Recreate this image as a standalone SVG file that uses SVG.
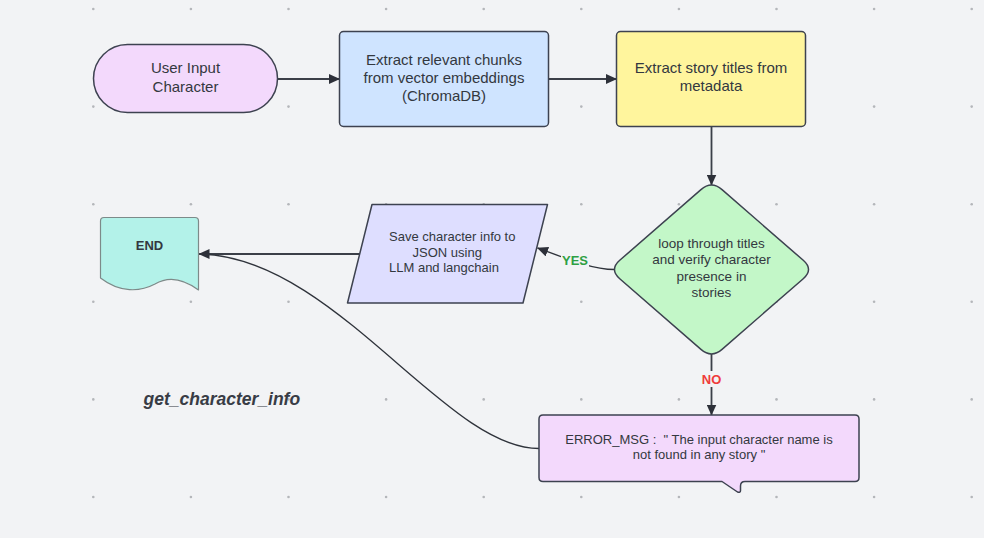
<svg xmlns="http://www.w3.org/2000/svg" width="984" height="538" viewBox="0 0 984 538">
<defs>
<style>
.bg{fill:#f2f3f5}
.dot{fill:#b4b6ba}
.shape{stroke:#3d4250;stroke-width:1.5;stroke-linejoin:round}
.t{font-family:"Liberation Sans",Arial,sans-serif;fill:#333840;text-anchor:middle}
.t15{font-size:15px}
.t13{font-size:13px}
.t135{font-size:13.5px}
.conn{fill:none;stroke:#3b3f48;stroke-width:1.8}
.curve{fill:none;stroke:#2f333b;stroke-width:1.3}
.lbl{font-family:"Liberation Sans",Arial,sans-serif;font-size:13px;font-weight:bold;text-anchor:middle}
</style>
<marker id="arr" markerUnits="userSpaceOnUse" markerWidth="11" markerHeight="10" refX="10.5" refY="5" orient="auto">
<path d="M0,0 L11,5 L0,10 Z" fill="#2d3039"/>
</marker>
</defs>
<rect class="bg" x="0" y="0" width="984" height="538"/>
<g id="grid">
<g id="gridrow" class="dot">
<circle cx="93.3" cy="9" r="1.3"/><circle cx="190.9" cy="9" r="1.3"/><circle cx="288.5" cy="9" r="1.3"/><circle cx="386.1" cy="9" r="1.3"/><circle cx="483.7" cy="9" r="1.3"/><circle cx="581.3" cy="9" r="1.3"/><circle cx="678.9" cy="9" r="1.3"/><circle cx="776.5" cy="9" r="1.3"/><circle cx="874.1" cy="9" r="1.3"/><circle cx="971.7" cy="9" r="1.3"/>
</g>
<use href="#gridrow" y="97.6"/>
<use href="#gridrow" y="195.2"/>
<use href="#gridrow" y="292.8"/>
<use href="#gridrow" y="390.4"/>
<use href="#gridrow" y="488"/>
</g>

<g id="connectors">
<line class="conn" x1="278" y1="79" x2="339.5" y2="79" marker-end="url(#arr)"/>
<line class="conn" x1="548.5" y1="79" x2="616.5" y2="79" marker-end="url(#arr)"/>
<line class="conn" x1="711.5" y1="126.5" x2="711.5" y2="185" marker-end="url(#arr)"/>
<path class="curve" d="M614.5,269.5 C595,269.5 575,262 537.5,248" marker-end="url(#arr)"/>
<line class="conn" x1="711.5" y1="354" x2="711.5" y2="415" marker-end="url(#arr)"/>
<line class="conn" x1="360" y1="254" x2="199" y2="254" marker-end="url(#arr)"/>
<path class="curve" d="M539,448.5 C445,448.5 335,258 201,254"/>
<rect class="bg" x="561" y="252" width="28" height="15"/>
<text class="lbl" x="575" y="265" fill="#2ea043">YES</text>
<rect class="bg" x="699" y="371" width="25" height="16"/>
<text class="lbl" x="711.5" y="384" fill="#ef3b3b">NO</text>
</g>

<g id="user-input">
<rect class="shape" x="93.5" y="44.5" width="184" height="68" rx="34" ry="34" fill="#f3d9fc"/>
<text class="t t15" x="185.5" y="73">User Input</text>
<text class="t t15" x="185.5" y="92">Character</text>
</g>

<g id="extract-chunks">
<rect class="shape" x="339.5" y="31.5" width="209" height="95" rx="4" fill="#cfe4ff"/>
<text class="t t15" x="444" y="64.5">Extract relevant chunks</text>
<text class="t t15" x="444" y="82.5">from vector embeddings</text>
<text class="t t15" x="444" y="100.5">(ChromaDB)</text>
</g>

<g id="extract-titles">
<rect class="shape" x="616.5" y="31.5" width="189" height="95" rx="4" fill="#fff59d"/>
<text class="t t15" x="711" y="72.5">Extract story titles from</text>
<text class="t t15" x="711" y="90.5">metadata</text>
</g>

<g id="decision">
<path class="shape" d="M700.95,189.6 Q711.5,180.4 722.05,189.6 L803.25,260.3 Q813.8,269.5 803.25,278.7 L722.05,349.4 Q711.5,358.6 700.95,349.4 L619.75,278.7 Q609.2,269.5 619.75,260.3 Z" fill="#c3f7c8"/>
<text class="t t135" x="711.5" y="247.5">loop through titles</text>
<text class="t t135" x="711.5" y="264">and verify character</text>
<text class="t t135" x="711.5" y="280.5">presence in</text>
<text class="t t135" x="711.5" y="297">stories</text>
</g>

<g id="save-json">
<polygon class="shape" points="372,204.5 547.5,204.5 523,303 347.5,303" fill="#dedeff"/>
<text class="t t13" x="389" y="241" style="text-anchor:start">Save character info to</text>
<text class="t t13" x="412.5" y="256.5" style="text-anchor:start">JSON using</text>
<text class="t t13" x="389" y="272" style="text-anchor:start">LLM and langchain</text>
</g>

<g id="end">
<path d="M104,217.5 H195 Q198.5,217.5 198.5,221 V290 C185,280 170,275 155,284 C140,292 120,293 100.5,278 V221 Q100.5,217.5 104,217.5 Z" fill="#b3f2e9" stroke="#7d8a89" stroke-width="1.2" stroke-linejoin="round"/>
<text class="t t13" x="149.5" y="249.5" font-weight="bold" fill="#2f333b">END</text>
</g>

<g id="error-msg">
<path class="shape" d="M543,415 H855 Q859,415 859,419 V477.5 Q859,481.5 855,481.5 H745 Q740.5,481.5 740.5,486 V490.5 Q740.5,493 737.5,492 L722,481.5 H543 Q539,481.5 539,477.5 V419 Q539,415 543,415 Z" fill="#f3d9fc"/>
<text class="t t13" x="699" y="443.5" style="white-space:pre">ERROR_MSG :  " The input character name is</text>
<text class="t t13" x="699" y="458.5" style="white-space:pre">not found in any story "</text>
</g>

<g id="title">
<text x="143.5" y="404.5" font-family="'Liberation Sans',Arial,sans-serif" font-size="17.5px" font-weight="bold" font-style="italic" fill="#383c45">get_character_info</text>
</g>
</svg>
